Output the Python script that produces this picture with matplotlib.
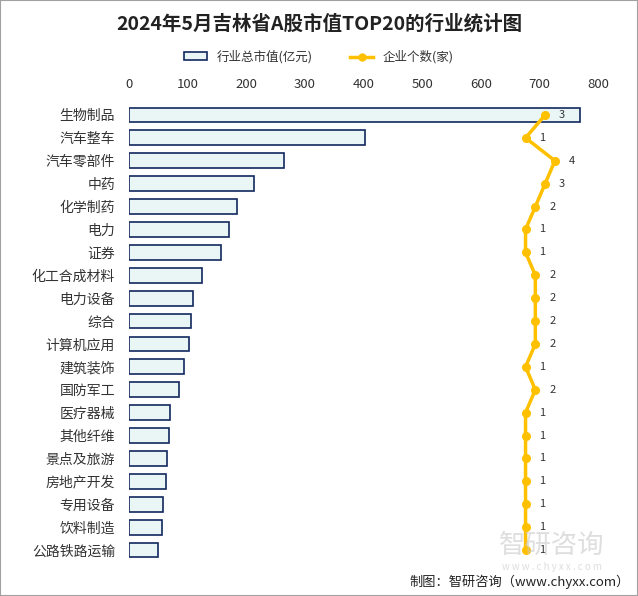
import matplotlib.pyplot as plt
from matplotlib.lines import Line2D
from matplotlib.patches import Patch, Rectangle
import numpy as np

plt.rcParams['font.family'] = ['Noto Sans CJK SC', 'DejaVu Sans']

industries = ["生物制品", "汽车整车", "汽车零部件", "中药", "化学制药", "电力", "证券",
              "化工合成材料", "电力设备", "综合", "计算机应用", "建筑装饰", "国防军工",
              "医疗器械", "其他纤维", "景点及旅游", "房地产开发", "专用设备", "饮料制造",
              "公路铁路运输"]
market_value = [769, 402, 265, 213, 184, 171, 157, 125, 109, 106, 102, 94, 85,
                70, 68, 65, 63, 58, 56, 50]
company_count = [3, 1, 4, 3, 2, 1, 1, 2, 2, 2, 2, 1, 2, 1, 1, 1, 1, 1, 1, 1]
x_ticks = [0, 100, 200, 300, 400, 500, 600, 700, 800]

W, H = 638, 596
fig = plt.figure(figsize=(W / 100, H / 100), dpi=100)
ax = fig.add_axes([129 / W, 1 - 561.5 / H, (598 - 129) / W, (561.5 - 103.5) / H])

y = np.arange(len(industries))
ax.barh(y, market_value, height=0.65, color="#EAF6F6", edgecolor="#12285E", linewidth=1.2, zorder=2)
ax.set_ylim(len(industries) - 0.5, -0.5)
ax.set_xlim(0, 800)
ax.set_yticks(y)
ax.set_yticklabels(industries, fontsize=10, color="#333333")
for s in ax.spines.values():
    s.set_visible(False)

ax2 = ax.twiny()
ax2.set_xlim(-39.5, 8.4)
ax2.plot(company_count, y, color="#FFC000", linewidth=2.5, marker="o", markersize=5.5, zorder=4)
for c, yy in zip(company_count, y):
    ax2.annotate(str(c), (c, yy), xytext=(10, 0), textcoords="offset points",
                 fontsize=8, color="#333333", va="center", ha="left")
ax2.set_xticks([])
ax2.xaxis.set_ticks_position("none")
for s in ax2.spines.values():
    s.set_visible(False)

# primary value axis labels on top
ax.xaxis.set_ticks_position("top")
ax.set_xticks(x_ticks)
ax.set_xticklabels([str(t) for t in x_ticks], fontsize=9.5, color="#333333")
ax.tick_params(axis='x', length=0, pad=9, labeltop=True, labelbottom=False)
ax.tick_params(axis='y', length=0, pad=10)

fig.text(0.5, 1 - 24 / H, "2024年5月吉林省A股市值TOP20的行业统计图", ha="center", va="center",
         fontsize=14, fontweight="bold", color="#222222")

handles = [Patch(facecolor="#EAF6F6", edgecolor="#12285E", linewidth=1.2, label="行业总市值(亿元)"),
           Line2D([0], [0], color="#FFC000", linewidth=2.5, marker="o", markersize=5, label="企业个数(家)")]
fig.legend(handles=handles, loc="center", bbox_to_anchor=(0.5, 1 - 57 / H), ncol=2, frameon=False,
           fontsize=9, handlelength=1.8, handleheight=0.6, columnspacing=3, labelcolor="#333333")

# watermark
fig.text(552 / W, 1 - 545 / H, "智研咨询", ha="center", va="center", fontsize=19, color="#C8C8C8",
         alpha=0.6, zorder=0)
fig.text(552 / W, 1 - 567 / H, "w w w . c h y x x . c o m", ha="center", va="center", fontsize=7,
         color="#C8C8C8", alpha=0.6, zorder=0)
fig.text(630 / W, 1 - 582 / H, "制图：智研咨询（www.chyxx.com）", ha="right", va="center",
         fontsize=9.5, color="#222222")

fig.patches.append(Rectangle((0, 0), 1, 1, transform=fig.transFigure, fill=False,
                             edgecolor="#A0A0A0", linewidth=1.5))

fig.savefig("out.png", dpi=100)
